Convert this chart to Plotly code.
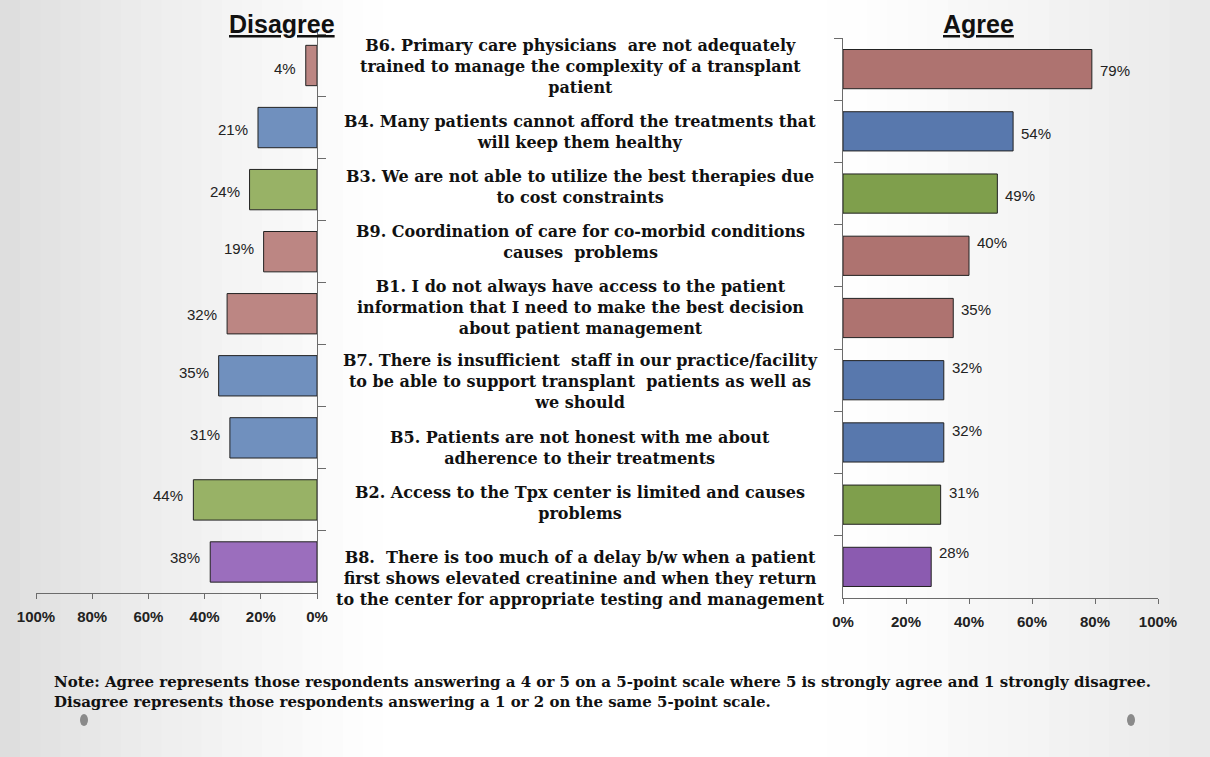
import plotly.graph_objects as go

W, H = 1210, 757

items = [
    "B6. Primary care physicians  are not adequately<br>trained to manage the complexity of a transplant<br>patient",
    "B4. Many patients cannot afford the treatments that<br>will keep them healthy",
    "B3. We are not able to utilize the best therapies due<br>to cost constraints",
    "B9. Coordination of care for co-morbid conditions<br>causes  problems",
    "B1. I do not always have access to the patient<br>information that I need to make the best decision<br>about patient management",
    "B7. There is insufficient  staff in our practice/facility<br>to be able to support transplant  patients as well as<br>we should",
    "B5. Patients are not honest with me about<br>adherence to their treatments",
    "B2. Access to the Tpx center is limited and causes<br>problems",
    "B8.  There is too much of a delay b/w when a patient<br>first shows elevated creatinine and when they return<br>to the center for appropriate testing and management",
]
codes = ["B6", "B4", "B3", "B9", "B1", "B7", "B5", "B2", "B8"]
disagree = [4, 21, 24, 19, 32, 35, 31, 44, 38]
agree = [79, 54, 49, 40, 35, 32, 32, 31, 28]
groups = ["pink", "blue", "green", "pink", "pink", "blue", "blue", "green", "purple"]
tick_vals = [0, 20, 40, 60, 80, 100]

# styles
left_colors = {"pink": "#bc8683", "blue": "#7090be", "green": "#98b266", "purple": "#9b6ebd"}
right_colors = {"pink": "#ae7370", "blue": "#5878ad", "green": "#7f9f4c", "purple": "#8b5bb0"}
center_yshift = [-1, -4, 3, 10, 6, -6, -10, -3, -17]
right_label_yshift = [-1, -2, -2, 13, 9, 13, 12, 12, 14]
left_label_yshift = [-3, -2, -2, 3, -1, 3, 3, 4, 4]

def px(x):
    return x / W

def py(y):
    return 1 - y / H

fig = go.Figure()

fig.add_trace(go.Bar(
    y=codes, x=disagree, orientation="h", xaxis="x", yaxis="y",
    marker=dict(color=[left_colors[g] for g in groups], line=dict(color="#222", width=1)),
    width=0.65, showlegend=False, hoverinfo="skip",
))
fig.add_trace(go.Bar(
    y=codes, x=agree, orientation="h", xaxis="x2", yaxis="y2",
    marker=dict(color=[right_colors[g] for g in groups], line=dict(color="#222", width=1)),
    width=0.63, showlegend=False, hoverinfo="skip",
))

axis_font = dict(family="Liberation Sans, Arial", size=15, color="#222", weight="bold")
common_x = dict(tickvals=tick_vals, ticktext=[f"{v}%" for v in tick_vals],
                showgrid=False, zeroline=False, showline=True, linecolor="#6b6b6b", linewidth=1,
                ticks="outside", ticklen=5, tickcolor="#6b6b6b", tickfont=axis_font,
                automargin=False, ticklabelstandoff=5)
common_y = dict(categoryorder="array", categoryarray=codes, autorange="reversed",
                showticklabels=False, showgrid=False, zeroline=False,
                showline=True, linecolor="#6b6b6b", linewidth=1,
                ticks="outside", tickson="boundaries", ticklen=8, tickcolor="#6b6b6b",
                automargin=False)

fig.update_layout(
    width=W, height=H,
    margin=dict(l=0, r=0, t=0, b=0, pad=0, autoexpand=False),
    paper_bgcolor="#ffffff", plot_bgcolor="rgba(0,0,0,0)",
    xaxis=dict(domain=[px(36), px(317)], range=[100, 0], anchor="y", **common_x),
    yaxis=dict(domain=[py(593), py(32)], anchor="x", side="right", **common_y),
    xaxis2=dict(domain=[px(843), px(1158)], range=[0, 100], anchor="y2", **common_x),
    yaxis2=dict(domain=[py(598), py(38)], anchor="x2", side="left", **common_y),
)

# background gradient (decorative)
n = 60
for i in range(n):
    x0 = i / n
    x1 = (i + 1) / n
    xc = (x0 + x1) / 2 * W
    if xc < 380:
        g = 220 + (255 - 220) * (xc / 380) ** 0.8
    elif xc < 820:
        g = 255
    else:
        g = 255 - (255 - 232) * ((xc - 820) / 390) ** 1.2
    g = int(round(g))
    fig.add_shape(type="rect", xref="paper", yref="paper", x0=x0, x1=x1 + 0.002, y0=0, y1=1,
                  fillcolor=f"rgb({g},{g},{g})", line=dict(width=0), layer="below")

# centre labels
for code, txt, ys in zip(codes, items, center_yshift):
    fig.add_annotation(x=px(580), xref="paper", y=code, yref="y", yshift=ys,
                       text=f"<b>{txt}</b>", showarrow=False, align="center",
                       xanchor="center", yanchor="middle",
                       font=dict(family="DejaVu Serif, serif", size=16, color="#111"))

# left value labels
for code, v, ys in zip(codes, disagree, left_label_yshift):
    fig.add_annotation(x=v, xref="x", y=code, yref="y", yshift=ys, xshift=-8,
                       text=f"{v}%", showarrow=False, xanchor="right", yanchor="middle",
                       font=dict(family="Liberation Sans, Arial", size=15, color="#222"))

# right value labels
for code, v, ys in zip(codes, agree, right_label_yshift):
    fig.add_annotation(x=v, xref="x2", y=code, yref="y2", yshift=ys, xshift=6,
                       text=f"{v}%", showarrow=False, xanchor="left", yanchor="middle",
                       font=dict(family="Liberation Sans, Arial", size=15, color="#222"))

# titles
fig.add_annotation(x=px(282), y=py(24), xref="paper", yref="paper", text="<b><u>Disagree</u></b>",
                   showarrow=False, xanchor="center", yanchor="middle",
                   font=dict(family="Liberation Sans, Arial", size=25, color="#111"))
fig.add_annotation(x=px(978), y=py(24), xref="paper", yref="paper", text="<b><u>Agree</u></b>",
                   showarrow=False, xanchor="center", yanchor="middle",
                   font=dict(family="Liberation Sans, Arial", size=25, color="#111"))

# note
note = ("Note: Agree represents those respondents answering a 4 or 5 on a 5-point scale where 5 is strongly agree and 1 strongly disagree.<br>"
        "Disagree represents those respondents answering a 1 or 2 on the same 5-point scale.")
fig.add_annotation(x=px(52), y=py(692), xref="paper", yref="paper", text=f"<b>{note}</b>",
                   showarrow=False, xanchor="left", yanchor="middle", align="left",
                   font=dict(family="DejaVu Serif, serif", size=15, color="#111"))

# decorative dots
for cx in (84, 1131):
    fig.add_shape(type="circle", xref="paper", yref="paper",
                  x0=px(cx - 4), x1=px(cx + 4), y0=py(726), y1=py(714),
                  fillcolor="#8a8a8a", line=dict(width=0))

fig.write_html(
    "out.html",
    config={"displayModeBar": False},
    post_script="document.body.style.margin='0';document.body.style.overflow='hidden';",
)
